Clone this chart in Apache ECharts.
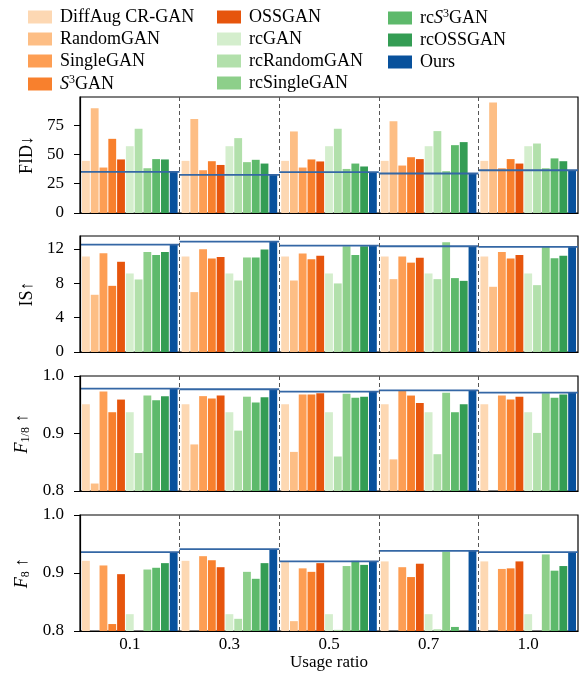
<!DOCTYPE html>
<html>
<head>
<meta charset="utf-8">
<script src="https://cdn.jsdelivr.net/npm/echarts@6/dist/echarts.min.js"></script>
<style>
  html, body { margin: 0; background: #fff; }
  #main { width: 586px; height: 673px; }
</style>
</head>
<body>
<div id="main"></div>
<script>
// usage ratios on the x axis
var ratios = ['0.1', '0.3', '0.5', '0.7', '1.0'];

var methods = ['DiffAug CR-GAN', 'RandomGAN', 'SingleGAN', 'S3GAN', 'OSSGAN',
  'rcGAN', 'rcRandomGAN', 'rcSingleGAN', 'rcS3GAN', 'rcOSSGAN', 'Ours'];

var colors = ['#fdd8b3', '#fdbe85', '#fd9e54', '#f8802d', '#e6550d',
  '#d4eecd', '#b2e0ab', '#8dcf8a', '#5db96b', '#349d54', '#08519c'];

// one row per method, one value per usage ratio
var fid = [
  [44.5, 44.5, 44.5, 44.5, 44.5],
  [89.3, 80.2, 69.6, 78.2, 94.4],
  [38.8, 36.5, 38.8, 40.5, 38.2],
  [63.3, 44.2, 45.7, 47.6, 46.0],
  [45.7, 41.0, 44.0, 46.0, 42.2],
  [57.0, 57.0, 57.0, 57.0, 57.0],
  [71.9, 63.9, 71.9, 69.9, 59.3],
  [38.2, 43.4, 37.6, 35.7, 38.2],
  [46.0, 45.4, 42.2, 57.9, 46.6],
  [45.7, 42.2, 39.7, 60.5, 44.2],
  [35.1, 32.5, 34.8, 33.7, 36.5]
];

var inception = [
  [11.1, 11.1, 11.1, 11.1, 11.1],
  [6.66, 6.97, 8.32, 8.48, 7.59],
  [11.5, 11.96, 11.46, 11.1, 11.65],
  [7.7, 10.88, 10.8, 10.4, 10.88],
  [10.5, 11.07, 11.19, 10.96, 11.3],
  [9.14, 9.14, 9.14, 9.14, 9.14],
  [8.44, 8.32, 7.98, 8.48, 7.78],
  [11.65, 11.0, 12.31, 12.78, 12.23],
  [11.3, 11.0, 11.3, 8.6, 10.92],
  [11.65, 11.92, 12.31, 8.28, 11.19],
  [12.5, 12.85, 12.39, 12.31, 12.23]
];

var f18 = [
  [0.951, 0.951, 0.951, 0.951, 0.951],
  [0.813, 0.881, 0.868, 0.855, 0.75],
  [0.973, 0.965, 0.968, 0.974, 0.966],
  [0.937, 0.961, 0.968, 0.966, 0.959],
  [0.959, 0.966, 0.970, 0.953, 0.964],
  [0.937, 0.937, 0.937, 0.937, 0.937],
  [0.866, 0.905, 0.860, 0.864, 0.901],
  [0.966, 0.964, 0.969, 0.971, 0.970],
  [0.958, 0.954, 0.962, 0.937, 0.962],
  [0.965, 0.963, 0.964, 0.951, 0.968],
  [0.978, 0.977, 0.973, 0.975, 0.971]
];

var f8 = [
  [0.921, 0.921, 0.920, 0.920, 0.920],
  [0.75, 0.75, 0.817, 0.75, 0.75],
  [0.913, 0.929, 0.908, 0.910, 0.907],
  [0.812, 0.922, 0.902, 0.893, 0.908],
  [0.898, 0.910, 0.917, 0.916, 0.920],
  [0.829, 0.829, 0.829, 0.829, 0.829],
  [0.75, 0.821, 0.802, 0.803, 0.75],
  [0.906, 0.902, 0.912, 0.937, 0.932],
  [0.909, 0.890, 0.921, 0.807, 0.904],
  [0.917, 0.917, 0.914, 0.75, 0.912],
  [0.936, 0.941, 0.920, 0.938, 0.936]
];

var fidTicks = [0, 25, 50, 75];
var isTicks = [0, 4, 8, 12];
var fTicks = [0.8, 0.9, 1.0];

var font = 'Liberation Serif';

var panels = [
  { data: fid, min: 0, max: 99, ticks: fidTicks, name: 'FID↓', top: 97, height: 116, gap: 41 },
  { data: inception, min: 0, max: 13.5, ticks: isTicks, name: 'IS↑', top: 236, height: 116, gap: 41 },
  { data: f18, min: 0.8, max: 1.0, ticks: fTicks, name: '{f|F}{s|1/8} ↑', top: 376, height: 115, gap: 40, dec: 1 },
  { data: f8, min: 0.8, max: 1.0, ticks: fTicks, name: '{f|F}{s|8} ↑', top: 515, height: 116, gap: 40, dec: 1 }
];

var nameRich = {
  f: { fontFamily: font, fontSize: 18, fontStyle: 'italic', color: '#000' },
  s: { fontFamily: font, fontSize: 12, color: '#000', padding: [7, 0, 0, 0] }
};

var grids = [], xAxes = [], yAxes = [], series = [];

panels.forEach(function (p, k) {
  var last = k === panels.length - 1;
  grids.push({
    left: 80, right: 8, top: p.top, height: p.height,
    show: true, borderColor: '#000', borderWidth: 1.2, backgroundColor: 'transparent'
  });
  xAxes.push({
    type: 'category', gridIndex: k, data: ratios, z: 5,
    axisLine: { show: true, lineStyle: { color: '#000', width: 1.2 } },
    axisTick: { show: false },
    axisLabel: { show: last, margin: 5, color: '#000', fontFamily: font, fontSize: 17 },
    splitLine: { show: true, showMinLine: false, showMaxLine: false,
      lineStyle: { color: '#555', width: 1, type: [4, 3] } },
    name: last ? 'Usage ratio' : '', nameLocation: 'middle', nameGap: 23,
    nameTextStyle: { color: '#000', fontFamily: font, fontSize: 17 }
  });
  yAxes.push({
    type: 'value', gridIndex: k, min: p.min, max: p.max, z: 5,
    axisLine: { show: true, lineStyle: { color: '#000', width: 1.2 } },
    axisTick: { show: true, length: 6, customValues: p.ticks, lineStyle: { color: '#000' } },
    axisLabel: {
      customValues: p.ticks, margin: 16, color: '#000', fontFamily: font, fontSize: 17,
      formatter: function (v) { return p.dec ? v.toFixed(p.dec) : String(v); }
    },
    splitLine: { show: false },
    name: p.name, nameLocation: 'middle', nameRotate: 90, nameGap: p.gap,
    nameTextStyle: { color: '#000', fontFamily: font, fontSize: 18, rich: nameRich }
  });
  methods.forEach(function (m, i) {
    series.push({
      name: m, type: 'bar', xAxisIndex: k, yAxisIndex: k,
      data: p.data[i], itemStyle: { color: colors[i] },
      barGap: '12%', barCategoryGap: '4%', clip: true,
      emphasis: { disabled: true }
    });
  });
  // level of "Ours" drawn across each usage-ratio group
  series.push({
    name: 'oursLevel', type: 'custom', xAxisIndex: k, yAxisIndex: k, z: 4,
    data: ratios.map(function (r, j) { return [j, p.data[methods.length - 1][j]]; }),
    encode: { x: 0, y: 1 },
    renderItem: function (params, api) {
      var c = api.coord([api.value(0), api.value(1)]);
      var w = api.size([1, 0])[0];
      return {
        type: 'line',
        shape: { x1: c[0] - w / 2, y1: c[1], x2: c[0] + w / 2, y2: c[1] },
        style: { stroke: '#3467a5', lineWidth: 1.8 }
      };
    }
  });
});

var legendText = {
  fontFamily: font, fontSize: 18, color: '#000', lineHeight: 18, padding: [0, 0, 0, 3],
  rich: {
    i: { fontFamily: font, fontSize: 18, fontStyle: 'italic', color: '#000' },
    u: { fontFamily: font, fontSize: 12, color: '#000', padding: [0, 0, 8, 0] },
    n: { fontFamily: font, fontSize: 18, color: '#000' }
  }
};

function legendName(name) {
  if (name === 'S3GAN') return '{i|S}{u|3}{n|GAN}';
  if (name === 'rcS3GAN') return '{n|rc}{i|S}{u|3}{n|GAN}';
  return name;
}

function legendColumn(names, left) {
  return {
    data: names, left: left, top: 8, orient: 'vertical', icon: 'rect',
    itemWidth: 24, itemHeight: 13, itemGap: 4, padding: 0,
    selectedMode: false, textStyle: legendText, formatter: legendName
  };
}

var chart = echarts.init(document.getElementById('main'), null, { renderer: 'canvas' });
chart.setOption({
  animation: false,
  color: colors,
  legend: [
    legendColumn(methods.slice(0, 4), 28),
    legendColumn(methods.slice(4, 8), 217),
    legendColumn(methods.slice(8), 388)
  ],
  grid: grids,
  xAxis: xAxes,
  yAxis: yAxes,
  series: series
});
</script>
</body>
</html>
